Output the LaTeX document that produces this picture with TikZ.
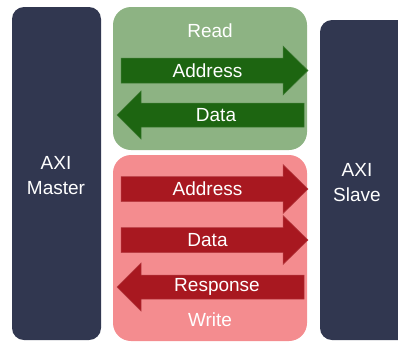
\documentclass[tikz,border=0pt]{standalone}
\usepackage{fontspec}
\setmainfont{Liberation Sans}
\definecolor{navy}{HTML}{313750}
\definecolor{readbg}{HTML}{8DB383}
\definecolor{readfg}{HTML}{1D6511}
\definecolor{writebg}{HTML}{F48C8F}
\definecolor{writefg}{HTML}{A81820}
\begin{document}
\begin{tikzpicture}[x=1pt,y=-1pt,
  lbl/.style={text=white,font=\fontsize{19}{25}\selectfont,inner sep=0pt,align=center},
  block/.style={fill=navy,rounded corners=12pt},
  group/.style={rounded corners=18pt},
  rarrow/.style={line width=0.5pt},
]
\useasboundingbox (0,0) rectangle (398,341);

% master and slave blocks
\fill[block] (12,7) rectangle (101,340);
\fill[block] (320,20) rectangle (420,340);
\node[lbl] (master) at (56,176) {AXI\\Master};
\node[lbl] (slave) at (357,183) {AXI\\Slave};

% read channel group
\fill[group,fill=readbg] (113,7) rectangle (307,150);
\node[lbl] (read) at (210,31) {Read};
\filldraw[rarrow,fill=readfg,draw=readfg!85!white]
  (121,58) -- (283,58) -- (283,46) -- (308,70.5) -- (283,95) -- (283,83) -- (121,83) -- cycle;
\node[lbl] (raddr) at (207.5,71) {Address};
\filldraw[rarrow,fill=readfg,draw=readfg!85!white]
  (304,103) -- (141,103) -- (141,91) -- (117,115) -- (141,139) -- (141,127) -- (304,127) -- cycle;
\node[lbl] (rdata) at (216,115.5) {Data};

% write channel group
\fill[group,fill=writebg] (113,155) rectangle (307,341);
\node[lbl] (write) at (210,320) {Write};
\filldraw[rarrow,fill=writefg,draw=writefg!85!white]
  (121,176.5) -- (283,176.5) -- (283,164.5) -- (308,189) -- (283,213.5) -- (283,201.5) -- (121,201.5) -- cycle;
\node[lbl] (waddr) at (207.5,188.5) {Address};
\filldraw[rarrow,fill=writefg,draw=writefg!85!white]
  (121,227.5) -- (283,227.5) -- (283,215.5) -- (308,240) -- (283,264.5) -- (283,252.5) -- (121,252.5) -- cycle;
\node[lbl] (wdata) at (207.5,240) {Data};
\filldraw[rarrow,fill=writefg,draw=writefg!85!white]
  (304,275) -- (141,275) -- (141,263) -- (117,287) -- (141,311) -- (141,299) -- (304,299) -- cycle;
\node[lbl] (wresp) at (217,287) {Response};
\end{tikzpicture}
\end{document}
